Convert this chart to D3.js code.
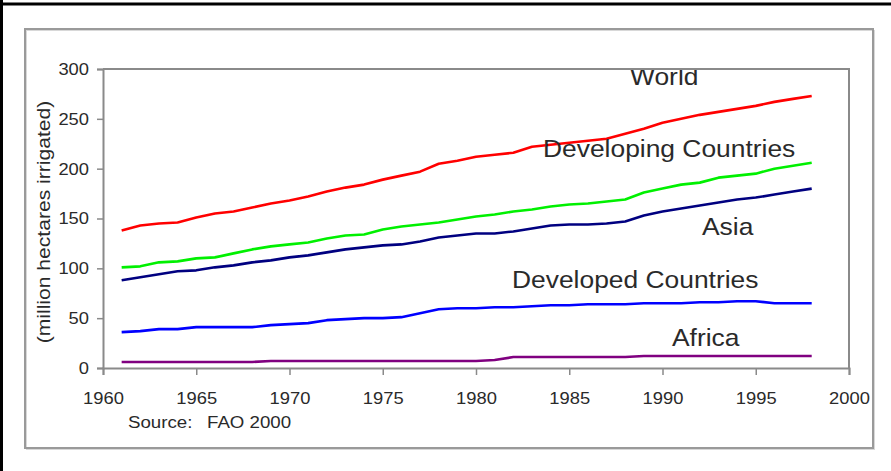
<!DOCTYPE html>
<html>
<head>
<meta charset="utf-8">
<script src="https://cdn.jsdelivr.net/npm/d3@7"></script>
<style>
  body { margin: 0; background: #fff; }
  svg { display: block; font-family: "Liberation Sans", Arial, sans-serif; }
</style>
</head>
<body>
<svg id="chart" width="891" height="471"></svg>
<script>
// Irrigated area by region, million hectares, 1961-1998 (FAO 2000)
const years = [1961, 1962, 1963, 1964, 1965, 1966, 1967, 1968, 1969, 1970,
               1971, 1972, 1973, 1974, 1975, 1976, 1977, 1978, 1979, 1980,
               1981, 1982, 1983, 1984, 1985, 1986, 1987, 1988, 1989, 1990,
               1991, 1992, 1993, 1994, 1995, 1996, 1997, 1998];

const world      = [138, 143, 145, 146, 151, 155, 157, 161, 165, 168,
                    172, 177, 181, 184, 189, 193, 197, 205, 208, 212,
                    214, 216, 222, 224, 226, 228, 230, 235, 240, 246,
                    250, 254, 257, 260, 263, 267, 270, 273];
const developing = [101, 102, 106, 107, 110, 111, 115, 119, 122, 124,
                    126, 130, 133, 134, 139, 142, 144, 146, 149, 152,
                    154, 157, 159, 162, 164, 165, 167, 169, 176, 180,
                    184, 186, 191, 193, 195, 200, 203, 206];
const asia       = [88, 91, 94, 97, 98, 101, 103, 106, 108, 111,
                    113, 116, 119, 121, 123, 124, 127, 131, 133, 135,
                    135, 137, 140, 143, 144, 144, 145, 147, 153, 157,
                    160, 163, 166, 169, 171, 174, 177, 180];
const developed  = [36, 37, 39, 39, 41, 41, 41, 41, 43, 44,
                    45, 48, 49, 50, 50, 51, 55, 59, 60, 60,
                    61, 61, 62, 63, 63, 64, 64, 64, 65, 65,
                    65, 66, 66, 67, 67, 65, 65, 65];
const africa     = [6, 6, 6, 6, 6, 6, 6, 6, 7, 7,
                    7, 7, 7, 7, 7, 7, 7, 7, 7, 7,
                    8, 11, 11, 11, 11, 11, 11, 11, 12, 12,
                    12, 12, 12, 12, 12, 12, 12, 12];

const seriesNames = ["World", "Developing Countries", "Asia", "Developed Countries", "Africa"];
const seriesValues = [world, developing, asia, developed, africa];

const yTicks = [0, 50, 100, 150, 200, 250, 300];
const xTicks = [1960, 1965, 1970, 1975, 1980, 1985, 1990, 1995, 2000];
const yTitle = "(million hectares irrigated)";
const sourceLabel = "Source:";
const sourceText = "FAO 2000";

// ---- drawing ----
const svg = d3.select("#chart");
const plot = { left: 103, right: 849, top: 69, bottom: 368 };
const colors = ["#ff0000", "#00f000", "#000080", "#0000ff", "#800080"];
const textColor = "#2a2a2a";
const axisGray = "#8a8a8a";

// horizontal stretch applied around a text's anchor point
function stretch(sel, k) {
  sel.attr("transform", function () {
    const tx = +(this.getAttribute("x") || 0);
    return `translate(${tx},0) scale(${k},1) translate(${-tx},0)`;
  });
}

// outer page border (top and left)
svg.append("line").attr("x1", 0).attr("x2", 891).attr("y1", 4).attr("y2", 4)
  .attr("stroke", "#000").attr("stroke-width", 3);
svg.append("line").attr("x1", 1.5).attr("x2", 1.5).attr("y1", 0).attr("y2", 471)
  .attr("stroke", "#000").attr("stroke-width", 3);

// chart panel frame with faint shadow
svg.append("rect").attr("x", 26.5).attr("y", 30.5).attr("width", 848).attr("height", 419)
  .attr("fill", "none").attr("stroke", "#d8d8d8").attr("stroke-width", 1);
svg.append("rect").attr("x", 25).attr("y", 29).attr("width", 848).attr("height", 419)
  .attr("fill", "none").attr("stroke", "#9a9a9a").attr("stroke-width", 2);

const x = d3.scaleLinear().domain([1960, 2000]).range([plot.left, plot.right]);
const y = d3.scaleLinear().domain([0, 300]).range([plot.bottom, plot.top]);

// clip region for the plot contents
svg.append("clipPath").attr("id", "plotClip")
  .append("rect").attr("x", plot.left).attr("y", plot.top)
  .attr("width", plot.right - plot.left).attr("height", plot.bottom - plot.top);

// series lines
const line = d3.line()
  .x((d, i) => x(years[i]))
  .y(d => y(d));

const linesG = svg.append("g").attr("clip-path", "url(#plotClip)");
seriesValues.forEach((vals, i) => {
  linesG.append("path")
    .datum(vals)
    .attr("d", line)
    .attr("fill", "none")
    .attr("stroke", colors[i])
    .attr("stroke-width", 2.6)
    .attr("stroke-linejoin", "round")
    .attr("stroke-linecap", "butt");
});

// series labels
const labelLayout = [
  { px: 630, py: 85 },
  { px: 543, py: 157 },
  { px: 702, py: 235 },
  { px: 512, py: 288 },
  { px: 672, py: 346 }
];
const labelsG = svg.append("g").attr("clip-path", "url(#plotClip)");
seriesNames.forEach((name, i) => {
  labelsG.append("text")
    .attr("x", labelLayout[i].px)
    .attr("y", labelLayout[i].py)
    .attr("font-size", 24)
    .attr("fill", textColor)
    .text(name)
    .call(stretch, 1.1);
});

// plot frame (top and right edges)
svg.append("path")
  .attr("d", `M${plot.left},${plot.top}H${plot.right}V${plot.bottom}`)
  .attr("fill", "none").attr("stroke", axisGray).attr("stroke-width", 2);

// axes
const yAxis = d3.axisLeft(y).tickValues(yTicks).tickSize(6).tickPadding(8).tickFormat(d3.format("d"));
const xAxis = d3.axisBottom(x).tickValues(xTicks).tickSize(7).tickPadding(17).tickFormat(d3.format("d"));

const gy = svg.append("g").attr("transform", `translate(${plot.left},0)`).call(yAxis);
const gx = svg.append("g").attr("transform", `translate(0,${plot.bottom})`).call(xAxis);

[gx, gy].forEach(g => {
  g.select(".domain").attr("stroke", axisGray).attr("stroke-width", 2);
  g.selectAll(".tick line").attr("stroke", axisGray).attr("stroke-width", 1.5);
  g.selectAll(".tick text")
    .attr("font-size", 17)
    .attr("font-family", "Liberation Sans, Arial, sans-serif")
    .attr("fill", textColor)
    .call(stretch, 1.08);
});

// y-axis title
svg.append("text")
  .attr("transform", "translate(50,222) rotate(-90) scale(1.11,1)")
  .attr("text-anchor", "middle")
  .attr("font-size", 19)
  .attr("fill", textColor)
  .text(yTitle);

// source note
svg.append("text").attr("x", 128).attr("y", 428)
  .attr("font-size", 17).attr("fill", textColor).text(sourceLabel).call(stretch, 1.1);
svg.append("text").attr("x", 207).attr("y", 428)
  .attr("font-size", 17).attr("fill", textColor).text(sourceText).call(stretch, 1.1);
</script>
</body>
</html>
